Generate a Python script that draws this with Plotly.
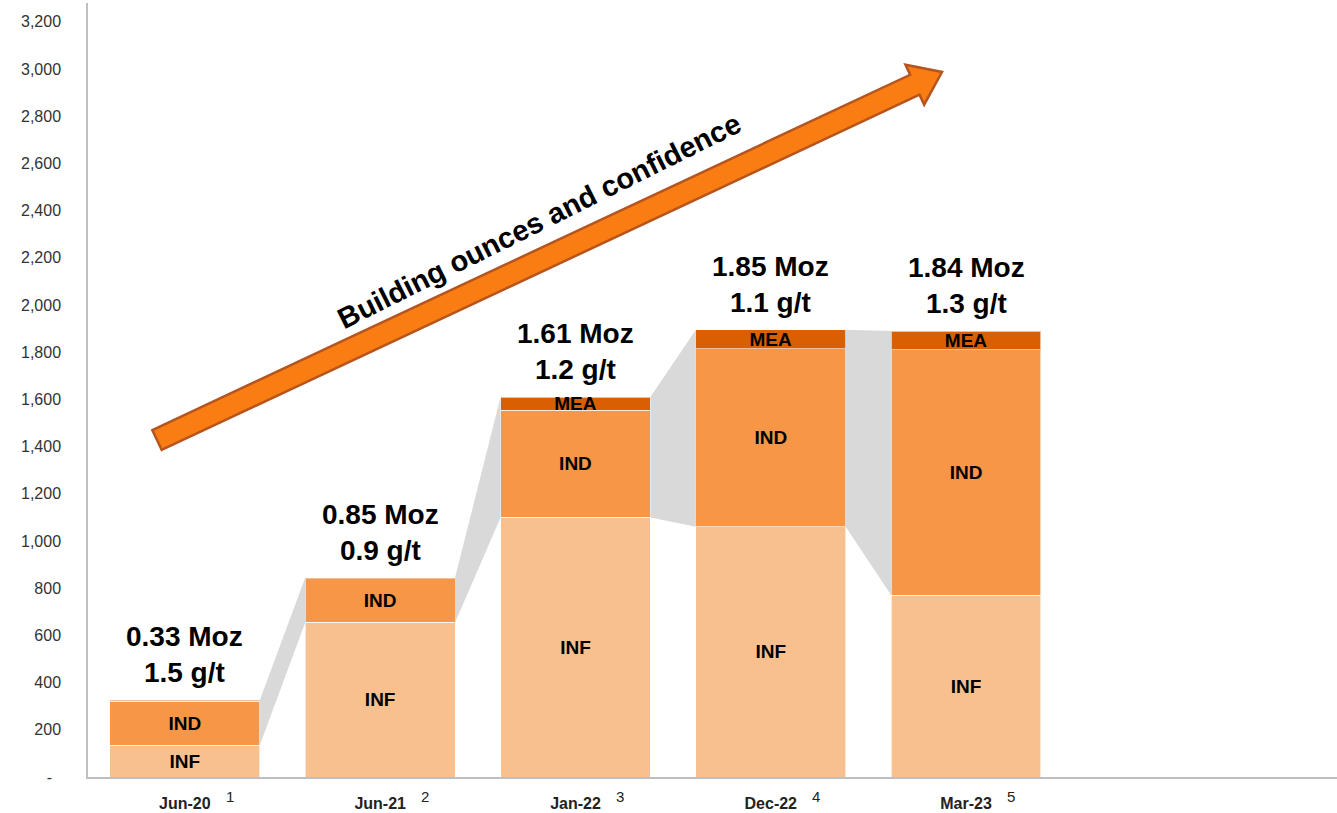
import plotly.graph_objects as go
import math

categories = ["Jun-20", "Jun-21", "Jan-22", "Dec-22", "Mar-23"]
footnotes = ["1", "2", "3", "4", "5"]
inf_vals = [135, 655, 1100, 1060, 770]
ind_vals = [185, 185, 455, 755, 1040]
mea_vals = [5, 5, 55, 80, 80]
moz_labels = ["0.33 Moz", "0.85 Moz", "1.61 Moz", "1.85 Moz", "1.84 Moz"]
grade_labels = ["1.5 g/t", "0.9 g/t", "1.2 g/t", "1.1 g/t", "1.3 g/t"]
inf_text = ["INF", "INF", "INF", "INF", "INF"]
ind_text = ["IND", "IND", "IND", "IND", "IND"]
mea_text = ["", "", "MEA", "MEA", "MEA"]
y_ticks = list(range(0, 3201, 200))
y_ticktext = ["-\u00a0\u00a0" if v == 0 else f"{v:,}" for v in y_ticks]

FONT = "Liberation Sans, Arial, sans-serif"
C_INF = "#F9C08F"
C_IND = "#F79646"
C_MEA = "#DA5F02"
C_CONN = "#D9D9D9"
BAR_W = 0.767

W, H = 1337, 813
ML, MR, MT, MB = 88, 0, 3, 36
PW, PH = W - ML - MR, H - MT - MB

xs = list(range(len(categories)))
totals = [a + b + c for a, b, c in zip(inf_vals, ind_vals, mea_vals)]

fig = go.Figure()

# grey connectors between the IND+MEA portions of consecutive bars
for i in range(len(xs) - 1):
    x0 = xs[i] + BAR_W / 2
    x1 = xs[i + 1] - BAR_W / 2
    fig.add_trace(go.Scatter(
        x=[x0, x0, x1, x1, x0],
        y=[inf_vals[i], totals[i], totals[i + 1], inf_vals[i + 1], inf_vals[i]],
        mode="lines", fill="toself", fillcolor=C_CONN,
        line=dict(width=0, color=C_CONN), hoverinfo="skip", showlegend=False))

for vals, col, txt, name in [(inf_vals, C_INF, inf_text, "INF"),
                             (ind_vals, C_IND, ind_text, "IND"),
                             (mea_vals, C_MEA, mea_text, "MEA")]:
    fig.add_trace(go.Bar(
        x=xs, y=vals, name=name, width=BAR_W,
        marker=dict(color=col, line=dict(color="rgba(255,255,255,0.6)", width=1)),
        text=txt, textposition="inside", insidetextanchor="middle",
        textfont=dict(family=FONT, size=19, color="#000000"),
        texttemplate="<b>%{text}</b>", showlegend=False))

annotations = []
for i, x in enumerate(xs):
    annotations.append(dict(
        x=x, y=totals[i], xref="x", yref="y", yanchor="bottom", yshift=10,
        text=f"<b>{moz_labels[i]}<br>{grade_labels[i]}</b>", showarrow=False,
        font=dict(family=FONT, size=28, color="#000000")))
    annotations.append(dict(
        x=x + 0.23, y=-20 / PH, xref="x", yref="paper", yanchor="middle",
        xanchor="center", text=footnotes[i], showarrow=False,
        font=dict(family=FONT, size=15, color="#222222")))

def px2paper(px, py):
    return (px - ML) / PW, (H - MB - py) / PH

# arrow (decoration) defined in pixel space, converted to paper coords
tx, ty = 157, 440
hx, hy = 942, 72
L = math.hypot(hx - tx, hy - ty)
ux, uy = (hx - tx) / L, (hy - ty) / L
nx, ny = -uy, ux
sw, hw, hl = 11, 22, 30
bx, by = tx + ux * (L - hl), ty + uy * (L - hl)
pts = [(tx - nx * sw, ty - ny * sw), (bx - nx * sw, by - ny * sw),
       (bx - nx * hw, by - ny * hw), (hx, hy),
       (bx + nx * hw, by + ny * hw), (bx + nx * sw, by + ny * sw),
       (tx + nx * sw, ty + ny * sw)]
pp = [px2paper(a, b) for a, b in pts]
path = "M " + " L ".join(f"{a:.5f},{b:.5f}" for a, b in pp) + " Z"
shapes = [dict(type="path", path=path, xref="paper", yref="paper",
               fillcolor="#FA7D14", line=dict(color="#B5541C", width=2.5), layer="above")]

ax_, ay_ = px2paper(539, 221)
annotations.append(dict(
    x=ax_, y=ay_, xref="paper", yref="paper", xanchor="center", yanchor="middle",
    textangle=-26.5,
    text="<b>Building ounces and confidence</b>", showarrow=False,
    font=dict(family=FONT, size=29, color="#000000")))

fig.update_layout(
    width=W, height=H, barmode="stack",
    margin=dict(l=ML, r=MR, t=MT, b=MB),
    paper_bgcolor="white", plot_bgcolor="white",
    uniformtext=dict(minsize=19, mode="show"),
    xaxis=dict(range=[-0.496, -0.496 + PW / 195.3], tickvals=xs,
               ticktext=[f"<b>{c}</b>" for c in categories],
               tickfont=dict(family=FONT, size=16, color="#222222"),
               showline=True, linecolor="#BFBFBF", linewidth=1.5,
               showgrid=False, zeroline=False, ticks="", ticklabelstandoff=11),
    yaxis=dict(range=[0, 3280], tickvals=y_ticks, ticktext=y_ticktext,
               tickfont=dict(family=FONT, size=16, color="#333333"),
               showline=True, linecolor="#BFBFBF", linewidth=1.5,
               showgrid=False, zeroline=False, ticks="", ticklabelstandoff=22),
    annotations=annotations, shapes=shapes,
)

fig.write_html("out.html")
